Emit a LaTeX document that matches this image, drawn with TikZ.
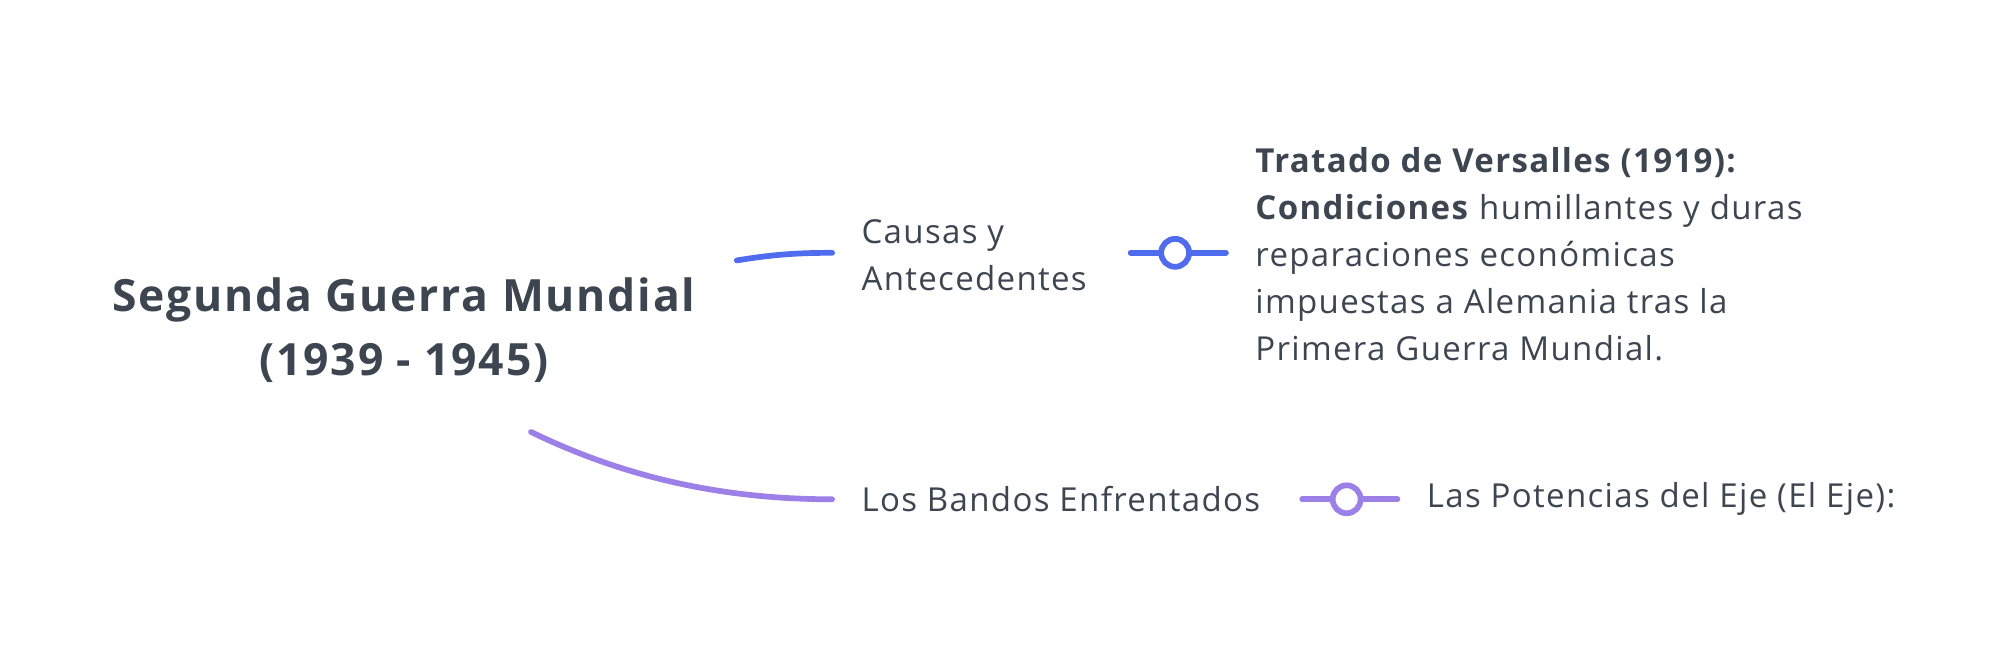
\documentclass[tikz,border=0pt]{standalone}
\usepackage{fontspec}
\setmainfont{Open Sans}[LetterSpace=4]
\definecolor{txt}{HTML}{3D4650}
\definecolor{blu}{HTML}{4F6BEE}
\definecolor{pur}{HTML}{9D7FE8}
\begin{document}
\begin{tikzpicture}[x=1pt,y=-1pt,
  lbl/.style={anchor=west,inner sep=0pt,text=txt,font=\fontsize{26}{37}\selectfont,align=left},
  link/.style={line width=4.5pt,line cap=round},
  knob/.style={circle,line width=4.5pt,fill=white,minimum size=22pt,inner sep=0pt}]
\useasboundingbox (0,0) rectangle (1568,523);
\node[text=txt,font=\fontsize{35}{50}\selectfont\bfseries,align=center,inner sep=0pt] (root) at (318,260) {Segunda Guerra Mundial\\(1939 - 1945)};
\node[lbl] (causas) at (678,201) {Causas y\\Antecedentes};
\node[lbl] (bandos) at (678,393) {Los Bandos Enfrentados};
\node[lbl] (trat) at (988,200) {\textbf{Tratado de Versalles (1919):}\\\textbf{Condiciones} humillantes y duras\\reparaciones económicas\\impuestas a Alemania tras la\\Primera Guerra Mundial.};
\node[lbl] (eje) at (1123,393) {Las Potencias del Eje (El Eje):};
\coordinate (r1) at (580,205);
\coordinate (c1) at (655,199);
\coordinate (r2) at (418,340);
\coordinate (c2) at (655,393);
\draw[link,blu] (r1) .. controls (610,200) and (630,199) .. (c1);
\draw[link,pur] (r2) .. controls (500,380) and (580,393) .. (c2);
\coordinate (a1) at (890,199); \coordinate (b1) at (965,199);
\draw[link,blu] (a1) -- (b1);
\node[knob,draw=blu] (k1) at (925,199) {};
\coordinate (a2) at (1025,393); \coordinate (b2) at (1100,393);
\draw[link,pur] (a2) -- (b2);
\node[knob,draw=pur] (k2) at (1060,393) {};
\end{tikzpicture}
\end{document}
